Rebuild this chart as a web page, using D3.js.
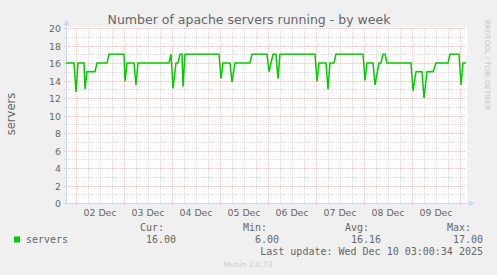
<!DOCTYPE html>
<html>
<head>
<meta charset="utf-8">
<script src="https://cdn.jsdelivr.net/npm/d3@7"></script>
<style>
  body { margin: 0; background: #f0f0f0; }
  svg { display: block; }
</style>
</head>
<body>
<svg id="chart"></svg>
<script>
// values (30 min averages)
var serverTimes = [
  "2025-12-01 19:00", "2025-12-01 23:00", "2025-12-02 00:00", "2025-12-02 01:00",
  "2025-12-02 04:00", "2025-12-02 04:30", "2025-12-02 05:30", "2025-12-02 09:30",
  "2025-12-02 10:30", "2025-12-02 15:30", "2025-12-02 16:30", "2025-12-03 00:00",
  "2025-12-03 00:30", "2025-12-03 01:30", "2025-12-03 05:00", "2025-12-03 06:00",
  "2025-12-03 07:00", "2025-12-03 22:30", "2025-12-03 23:30", "2025-12-04 00:30",
  "2025-12-04 02:00", "2025-12-04 03:00", "2025-12-04 04:00", "2025-12-04 05:00",
  "2025-12-04 05:30", "2025-12-04 06:30", "2025-12-04 23:30", "2025-12-05 00:30",
  "2025-12-05 01:30", "2025-12-05 05:00", "2025-12-05 06:00", "2025-12-05 07:30",
  "2025-12-05 15:00", "2025-12-05 16:00", "2025-12-05 23:30", "2025-12-06 00:30",
  "2025-12-06 01:30", "2025-12-06 02:30", "2025-12-06 04:00", "2025-12-06 05:00",
  "2025-12-06 06:00", "2025-12-06 23:30", "2025-12-07 00:30", "2025-12-07 01:30",
  "2025-12-07 05:00", "2025-12-07 06:00", "2025-12-07 07:00", "2025-12-07 09:00",
  "2025-12-07 10:00", "2025-12-07 23:30", "2025-12-08 00:30", "2025-12-08 01:30",
  "2025-12-08 04:30", "2025-12-08 05:30", "2025-12-08 07:30", "2025-12-08 08:30",
  "2025-12-08 09:30", "2025-12-08 10:30", "2025-12-08 11:30", "2025-12-08 23:30",
  "2025-12-09 00:30", "2025-12-09 02:00", "2025-12-09 05:00", "2025-12-09 06:00",
  "2025-12-09 07:30", "2025-12-09 10:30", "2025-12-09 12:00", "2025-12-09 18:00",
  "2025-12-09 19:00", "2025-12-09 23:30", "2025-12-10 00:30", "2025-12-10 01:30",
  "2025-12-10 03:00"
];
var serverValues = [
  16, 16, 12.7, 16,
  16, 13.0, 15, 15,
  16, 16, 17, 17,
  13.9, 16, 16, 13.5,
  16, 16, 17, 13.1,
  16, 16, 17, 17,
  13.3, 17, 17, 14.2,
  16, 16, 13.8, 16,
  16, 17, 17, 15,
  16, 17, 17, 14.2,
  17, 17, 13.9, 16,
  16, 13.0, 16, 16,
  17, 17, 14.0, 16,
  16, 13.5, 16, 16,
  17, 17, 16, 16,
  12.8, 15, 15, 12.0,
  15, 15, 16, 16,
  17, 17, 13.5, 16,
  16
];
var yTicks = [0, 2, 4, 6, 8, 10, 12, 14, 16, 18, 20];
var legendHeaders = ["Cur:", "Min:", "Avg:", "Max:"];
var legendValues = ["16.00", "6.00", "16.16", "17.00"];
var graphStart = "2025-12-01 19:00";
var graphEnd = "2025-12-10 03:00";

function init(){
    var width = 497, height = 275;
    var left = 66, right = 466, top = 28, bottom = 203;
    var fontColor = '#666666';
    var axisColor = '#cfd6f8';

    var parse = d3.utcParse('%Y-%m-%d %H:%M');
    var t0 = parse(graphStart), t1 = parse(graphEnd);

    var svg = d3.select('svg#chart')
      .attr('width', width)
      .attr('height', height)
      .style('font-family', 'DejaVu Sans, sans-serif');

    svg.append('rect')
      .attr('width', width)
      .attr('height', height)
      .attr('fill', '#f0f0f0');

    var x = d3.scaleUtc().domain([t0, t1]).range([left, right]);
    var y = d3.scaleLinear().domain([0, 20]).range([bottom, top]);

    // canvas
    svg.append('rect')
      .attr('x', left)
      .attr('y', top - 1)
      .attr('width', right - left + 1)
      .attr('height', bottom - top + 1)
      .attr('fill', '#ffffff');

    var grid = svg.append('g').attr('shape-rendering', 'crispEdges');

    // minor grid
    var minorX = d3.utcHour.every(6).range(t0, t1).filter(function(d){ return d.getUTCHours() !== 0; });
    grid.selectAll('line.vminor')
        .data(minorX)
      .enter().append('line')
        .attr('x1', function(d){ return Math.round(x(d)) + 0.5; })
        .attr('x2', function(d){ return Math.round(x(d)) + 0.5; })
        .attr('y1', top)
        .attr('y2', bottom)
        .attr('stroke', 'rgba(128,128,128,0.28)')
        .attr('stroke-dasharray', '1,1');

    var minorY = d3.range(1, 21, 2);
    grid.selectAll('line.hminor')
        .data(minorY)
      .enter().append('line')
        .attr('x1', left - 2)
        .attr('x2', right)
        .attr('y1', function(d){ return Math.round(y(d)) + 0.5; })
        .attr('y2', function(d){ return Math.round(y(d)) + 0.5; })
        .attr('stroke', 'rgba(128,128,128,0.28)')
        .attr('stroke-dasharray', '1,1');

    // major grid
    var days = d3.utcDay.range(t0, t1);
    grid.selectAll('line.vmajor')
        .data(days)
      .enter().append('line')
        .attr('x1', function(d){ return Math.round(x(d)) + 0.5; })
        .attr('x2', function(d){ return Math.round(x(d)) + 0.5; })
        .attr('y1', top)
        .attr('y2', bottom + 3)
        .attr('stroke', 'rgba(255,0,0,0.25)')
        .attr('stroke-dasharray', '1,1');

    grid.selectAll('line.hmajor')
        .data(yTicks.slice(1))
      .enter().append('line')
        .attr('x1', left - 2)
        .attr('x2', right)
        .attr('y1', function(d){ return Math.round(y(d)) + 0.5; })
        .attr('y2', function(d){ return Math.round(y(d)) + 0.5; })
        .attr('stroke', 'rgba(255,0,0,0.25)')
        .attr('stroke-dasharray', '1,1');

    // axes
    grid.append('line')
      .attr('x1', left + 0.5).attr('x2', left + 0.5)
      .attr('y1', bottom + 2).attr('y2', top - 6)
      .attr('stroke', axisColor);
    grid.append('line')
      .attr('x1', left - 3).attr('x2', right + 4)
      .attr('y1', bottom + 0.5).attr('y2', bottom + 0.5)
      .attr('stroke', axisColor);
    svg.append('path')
      .attr('d', 'M' + (left + 0.5) + ',' + (top - 9) + 'L' + (left + 3.5) + ',' + (top - 3) + 'L' + (left - 2.5) + ',' + (top - 3) + 'Z')
      .attr('fill', axisColor);
    svg.append('path')
      .attr('d', 'M' + (right + 9) + ',' + (bottom + 0.5) + 'L' + (right + 3) + ',' + (bottom - 2.5) + 'L' + (right + 3) + ',' + (bottom + 3.5) + 'Z')
      .attr('fill', axisColor);

    // y tick labels
    svg.append('g').selectAll('text')
        .data(yTicks)
      .enter().append('text')
        .attr('x', left - 5)
        .attr('y', function(d){ return y(d) + 4; })
        .attr('text-anchor', 'end')
        .attr('font-size', '9.4px')
        .attr('fill', fontColor)
        .text(function(d){ return d; });

    // x labels at noon of each day
    var fmt = d3.utcFormat('%d %b');
    svg.append('g').selectAll('text')
        .data(days.filter(function(d){ return x(d3.utcHour.offset(d, 12)) < right; }))
      .enter().append('text')
        .attr('x', function(d){ return x(d3.utcHour.offset(d, 12)); })
        .attr('y', 216)
        .attr('text-anchor', 'middle')
        .attr('font-size', '9.4px')
        .attr('fill', fontColor)
        .text(function(d){ return fmt(d); });

    // data line
    var points = serverTimes.map(function(t, i){ return [parse(t), serverValues[i]]; });
    var line = d3.line()
      .x(function(d){ return x(d[0]); })
      .y(function(d){ return y(d[1]); });
    svg.append('path')
      .datum(points)
      .attr('d', line)
      .attr('fill', 'none')
      .attr('stroke', '#00cc00')
      .attr('stroke-width', 1.5);

    // title and labels
    svg.append('text')
      .attr('x', 249)
      .attr('y', 24)
      .attr('text-anchor', 'middle')
      .attr('font-size', '12.5px')
      .attr('fill', fontColor)
      .text('Number of apache servers running - by week');

    svg.append('text')
      .attr('transform', 'translate(15,114) rotate(-90)')
      .attr('text-anchor', 'middle')
      .attr('font-size', '11.5px')
      .attr('fill', fontColor)
      .text('servers');

    svg.append('text')
      .attr('transform', 'translate(485,20) rotate(90)')
      .attr('font-size', '7px')
      .attr('fill', '#c4c4c4')
      .text('RRDTOOL / TOBI OETIKER');

    // legend
    var mono = 'DejaVu Sans Mono, monospace';
    svg.append('rect')
      .attr('x', 14).attr('y', 236.5)
      .attr('width', 6).attr('height', 6)
      .attr('fill', '#00cc00');
    svg.append('text')
      .attr('x', 26).attr('y', 243)
      .attr('font-family', mono).attr('font-size', '10px')
      .attr('fill', fontColor)
      .text('servers');

    var headX = [140, 243, 345, 447];
    var valX = [176, 279, 381, 483];
    svg.append('g').selectAll('text')
        .data(legendHeaders)
      .enter().append('text')
        .attr('x', function(d, i){ return headX[i]; })
        .attr('y', 231)
        .attr('font-family', mono).attr('font-size', '10px')
        .attr('fill', fontColor)
        .text(function(d){ return d; });
    svg.append('g').selectAll('text')
        .data(legendValues)
      .enter().append('text')
        .attr('x', function(d, i){ return valX[i]; })
        .attr('y', 243)
        .attr('text-anchor', 'end')
        .attr('font-family', mono).attr('font-size', '10px')
        .attr('fill', fontColor)
        .text(function(d){ return d; });

    svg.append('text')
      .attr('x', 483).attr('y', 255)
      .attr('text-anchor', 'end')
      .attr('font-family', mono).attr('font-size', '10px')
      .attr('fill', fontColor)
      .text('Last update: Wed Dec 10 03:00:34 2025');

    svg.append('text')
      .attr('x', 248).attr('y', 267)
      .attr('text-anchor', 'middle')
      .attr('font-size', '7.5px')
      .attr('fill', '#cccccc')
      .text('Munin 2.0.73');
}

init();
</script>
</body>
</html>
